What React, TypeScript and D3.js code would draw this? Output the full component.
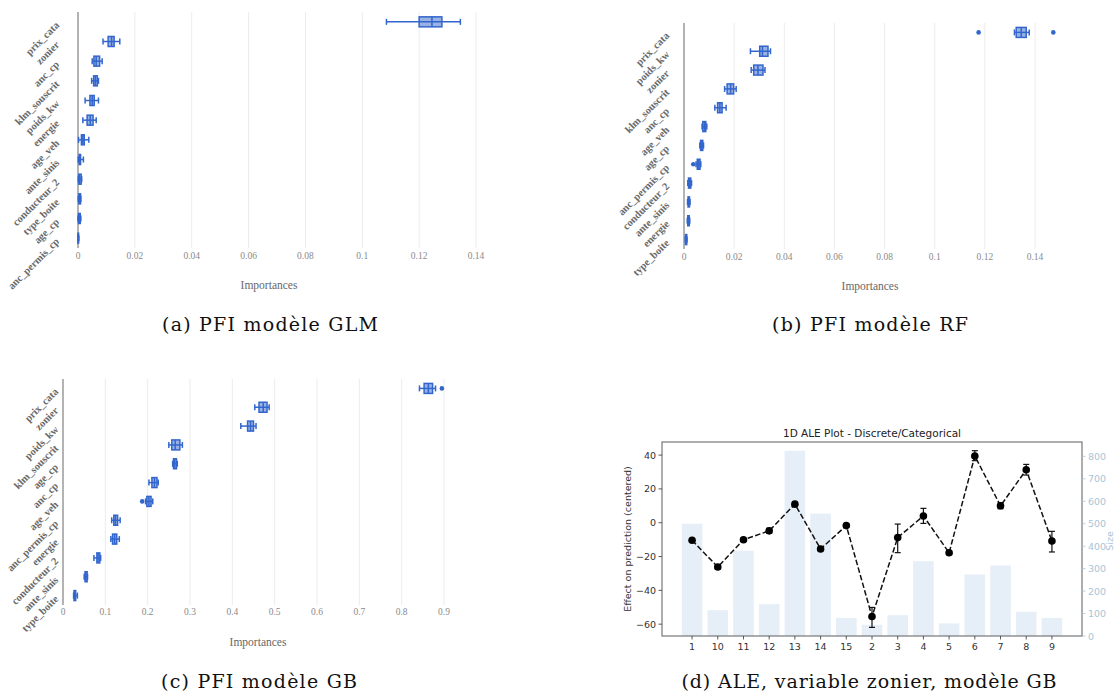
import React from "react";
import * as d3 from "d3";

// ---------- Panel (a) PFI GLM ----------
const glmLabels = ["prix_cata", "zonier", "anc_cp", "klm_souscrit", "poids_kw", "energie", "age_veh", "ante_sinis", "conducteur_2", "type_boite", "age_cp", "anc_permis_cp"];
const glmLow = [0.1085, 0.0088, 0.005, 0.0048, 0.0025, 0.0017, 0.0002, 0.0001, 0.0001, 0.0001, 0.0, 0.0];
const glmQ1 = [0.12, 0.0106, 0.0056, 0.0055, 0.0042, 0.0032, 0.0012, 0.0004, 0.0003, 0.0003, 0.0002, 0.0];
const glmMed = [0.1245, 0.0118, 0.0064, 0.0061, 0.005, 0.0043, 0.0017, 0.0006, 0.0006, 0.0005, 0.0004, 0.0001];
const glmQ3 = [0.128, 0.0127, 0.0076, 0.0068, 0.0057, 0.0053, 0.0022, 0.0009, 0.0011, 0.0009, 0.0008, 0.0002];
const glmHigh = [0.1345, 0.0147, 0.0085, 0.0072, 0.0072, 0.0064, 0.0038, 0.0019, 0.0013, 0.001, 0.001, 0.0003];
const glmOutlierRows: number[] = [];
const glmOutlierValues: number[] = [];
const glmTicks = [0, 0.02, 0.04, 0.06, 0.08, 0.1, 0.12, 0.14];
const glmTickLabels = ["0", "0.02", "0.04", "0.06", "0.08", "0.1", "0.12", "0.14"];

// ---------- Panel (b) PFI RF ----------
const rfLabels = ["prix_cata", "poids_kw", "zonier", "klm_souscrit", "anc_cp", "age_veh", "age_cp", "anc_permis_cp", "conducteur_2", "ante_sinis", "energie", "type_boite"];
const rfLow = [0.1318, 0.0265, 0.0268, 0.0162, 0.0123, 0.0072, 0.0063, 0.0048, 0.0015, 0.0014, 0.0013, 0.0005];
const rfQ1 = [0.1325, 0.0302, 0.0278, 0.0172, 0.0134, 0.0075, 0.0066, 0.0053, 0.0018, 0.0016, 0.0015, 0.0006];
const rfMed = [0.1345, 0.0313, 0.0295, 0.0186, 0.0143, 0.0081, 0.0071, 0.0059, 0.0022, 0.0019, 0.0018, 0.0009];
const rfQ3 = [0.1365, 0.0335, 0.0315, 0.0198, 0.0152, 0.0087, 0.0075, 0.0064, 0.0027, 0.0022, 0.0021, 0.0011];
const rfHigh = [0.1377, 0.0345, 0.0323, 0.0208, 0.0168, 0.0091, 0.0078, 0.0067, 0.003, 0.0024, 0.0023, 0.0012];
const rfOutlierRows = [0, 0, 7];
const rfOutlierValues = [0.1175, 0.1473, 0.0037];
const rfTicks = [0, 0.02, 0.04, 0.06, 0.08, 0.1, 0.12, 0.14];
const rfTickLabels = ["0", "0.02", "0.04", "0.06", "0.08", "0.1", "0.12", "0.14"];

// ---------- Panel (c) PFI GB ----------
const gbLabels = ["prix_cata", "zonier", "poids_kw", "klm_souscrit", "age_cp", "anc_cp", "age_veh", "anc_permis_cp", "energie", "conducteur_2", "ante_sinis", "type_boite"];
const gbLow = [0.842, 0.453, 0.42, 0.25, 0.259, 0.203, 0.195, 0.115, 0.113, 0.073, 0.05, 0.025];
const gbQ1 = [0.853, 0.463, 0.436, 0.257, 0.261, 0.21, 0.198, 0.12, 0.117, 0.08, 0.052, 0.026];
const gbMed = [0.863, 0.473, 0.443, 0.265, 0.264, 0.216, 0.203, 0.124, 0.122, 0.083, 0.054, 0.028];
const gbQ3 = [0.873, 0.482, 0.45, 0.276, 0.268, 0.222, 0.208, 0.129, 0.127, 0.087, 0.057, 0.03];
const gbHigh = [0.88, 0.487, 0.456, 0.282, 0.27, 0.225, 0.212, 0.135, 0.133, 0.089, 0.058, 0.034];
const gbOutlierRows = [0, 6];
const gbOutlierValues = [0.895, 0.187];
const gbTicks = [0, 0.1, 0.2, 0.3, 0.4, 0.5, 0.6, 0.7, 0.8, 0.9];
const gbTickLabels = ["0", "0.1", "0.2", "0.3", "0.4", "0.5", "0.6", "0.7", "0.8", "0.9"];

// ---------- Panel (d) ALE ----------
const aleCategories = ["1", "10", "11", "12", "13", "14", "15", "2", "3", "4", "5", "6", "7", "8", "9"];
const aleEffect = [-10.4, -26.2, -10.1, -4.8, 11.0, -15.5, -1.7, -55.5, -8.8, 4.0, -17.8, 39.5, 10.0, 31.3, -10.8];
const aleErrLow = [-11.4, -27.4, -11.1, -6.3, 10.0, -16.5, -2.7, -61.9, -17.7, -0.4, -18.8, 36.7, 8.3, 28.2, -17.3];
const aleErrHigh = [-9.4, -25.0, -9.1, -3.3, 12.0, -14.5, -0.7, -50.1, -0.8, 8.5, -16.8, 42.6, 11.8, 34.5, -5.1];
const aleSize = [500, 115, 380, 142, 825, 545, 81, 50, 93, 333, 56, 274, 314, 108, 81];
const aleLeftTicks = [-60, -40, -20, 0, 20, 40];
const aleRightTicks = [0, 100, 200, 300, 400, 500, 600, 700, 800];

const BLUE = "#3366cc";
const SERIF = "'Liberation Serif', 'DejaVu Serif', serif";
const CAPTION = "'DejaVu Serif', serif";
const SANS = "'DejaVu Sans', sans-serif";

type PFIProps = {
  labels: string[];
  low: number[];
  q1: number[];
  med: number[];
  q3: number[];
  high: number[];
  outRows: number[];
  outVals: number[];
  ticks: number[];
  tickLabels: string[];
  domainMax: number;
  x0: number;
  x1: number;
  top: number;
  bottom: number;
  labelGap: number;
  tickY: number;
  titleX: number;
  titleY: number;
};

function PFIPanel(p: PFIProps) {
  const x = d3.scaleLinear().domain([0, p.domainMax]).range([p.x0, p.x1]);
  const y = d3.scaleBand<string>().domain(p.labels).range([p.top, p.bottom]);
  const bh = 10;
  const ch = 6;
  return (
    <g>
      {p.ticks.map((t, i) =>
        t === 0 ? null : (
          <line key={"g" + i} x1={x(t)} x2={x(t)} y1={p.top} y2={p.bottom} stroke="#ececec" strokeWidth={1} />
        )
      )}
      <line x1={x(0)} x2={x(0)} y1={p.top} y2={p.bottom} stroke="#8a8a8a" strokeWidth={1.3} />
      {p.ticks.map((t, i) => (
        <text key={"t" + i} x={x(t)} y={p.tickY} textAnchor="middle" fontFamily={SERIF} fontSize={9.5} fill="#8a8a8a">
          {p.tickLabels[i]}
        </text>
      ))}
      <text x={p.titleX} y={p.titleY} textAnchor="middle" fontFamily={SERIF} fontSize={11.5} fill="#666">
        Importances
      </text>
      {p.labels.map((lab, i) => {
        const cy = (y(lab) as number) + y.bandwidth() / 2;
        const lx = p.x0 - p.labelGap;
        const ly = cy + 4;
        return (
          <text
            key={"l" + i}
            x={lx}
            y={ly}
            transform={`rotate(-45 ${lx} ${ly})`}
            textAnchor="end"
            fontFamily={SERIF}
            fontSize={10.5}
            fontWeight="bold"
            fill="#6a6a6a"
          >
            {lab}
          </text>
        );
      })}
      {p.labels.map((lab, i) => {
        const cy = (y(lab) as number) + y.bandwidth() / 2;
        return (
          <g key={"b" + i} stroke={BLUE} strokeWidth={1.5}>
            <line x1={x(p.low[i])} x2={x(p.high[i])} y1={cy} y2={cy} />
            <line x1={x(p.low[i])} x2={x(p.low[i])} y1={cy - ch / 2} y2={cy + ch / 2} />
            <line x1={x(p.high[i])} x2={x(p.high[i])} y1={cy - ch / 2} y2={cy + ch / 2} />
            <rect
              x={x(p.q1[i])}
              y={cy - bh / 2}
              width={Math.max(x(p.q3[i]) - x(p.q1[i]), 0.5)}
              height={bh}
              fill="rgba(51,102,204,0.5)"
            />
            <line x1={x(p.med[i])} x2={x(p.med[i])} y1={cy - bh / 2} y2={cy + bh / 2} />
          </g>
        );
      })}
      {p.outRows.map((r, i) => (
        <circle
          key={"o" + i}
          cx={x(p.outVals[i])}
          cy={(y(p.labels[r]) as number) + y.bandwidth() / 2}
          r={2.3}
          fill={BLUE}
        />
      ))}
    </g>
  );
}

function ALEPanel() {
  const left = 662, right = 1082, top = 442, bottom = 636;
  const x = d3.scalePoint<string>().domain(aleCategories).range([left, right]).padding(1.17);
  const yL = d3.scaleLinear().domain([-67.0, 47.75]).range([bottom, top]);
  const yR = d3.scaleLinear().domain([0, 864]).range([bottom, top]);
  const bw = x.step() * 0.8;
  const pts = aleCategories.map((c, i) => [x(c) as number, yL(aleEffect[i])] as [number, number]);
  const line = d3.line()(pts) || "";
  const fmt = (v: number) => (v < 0 ? "\u2212" + Math.abs(v) : String(v));
  return (
    <g fontFamily={SANS}>
      <text x={872} y={437} textAnchor="middle" fontSize={10.5} fill="#222">
        1D ALE Plot - Discrete/Categorical
      </text>
      {aleCategories.map((c, i) => (
        <rect key={"bar" + i} x={(x(c) as number) - bw / 2} y={yR(aleSize[i])} width={bw} height={bottom - yR(aleSize[i])} fill="#e6eef7" />
      ))}
      <path d={line} fill="none" stroke="#111" strokeWidth={1.5} strokeDasharray="5.5,2.4" />
      {aleCategories.map((c, i) => {
        const cx = x(c) as number;
        return (
          <g key={"e" + i} stroke="#111" strokeWidth={1.2}>
            <line x1={cx} x2={cx} y1={yL(aleErrLow[i])} y2={yL(aleErrHigh[i])} />
            <line x1={cx - 3} x2={cx + 3} y1={yL(aleErrLow[i])} y2={yL(aleErrLow[i])} />
            <line x1={cx - 3} x2={cx + 3} y1={yL(aleErrHigh[i])} y2={yL(aleErrHigh[i])} />
          </g>
        );
      })}
      {pts.map((pt, i) => (
        <circle key={"m" + i} cx={pt[0]} cy={pt[1]} r={3.8} fill="#000" />
      ))}
      <rect x={left} y={top} width={right - left} height={bottom - top} fill="none" stroke="#777" strokeWidth={1.2} />
      {aleLeftTicks.map((t, i) => (
        <g key={"lt" + i}>
          <line x1={left - 3.5} x2={left} y1={yL(t)} y2={yL(t)} stroke="#333" strokeWidth={0.8} />
          <text x={left - 6} y={yL(t) + 3.5} textAnchor="end" fontSize={9.5} fill="#333">
            {fmt(t)}
          </text>
        </g>
      ))}
      {aleRightTicks.map((t, i) => (
        <g key={"rt" + i}>
          <line x1={right} x2={right + 3.5} y1={yR(t)} y2={yR(t)} stroke="#a8c4d8" strokeWidth={0.8} />
          <text x={right + 6} y={yR(t) + 3.5} textAnchor="start" fontSize={9.5} fill="#a8c4d8">
            {t}
          </text>
        </g>
      ))}
      {aleCategories.map((c, i) => (
        <g key={"xt" + i}>
          <line x1={x(c) as number} x2={x(c) as number} y1={bottom} y2={bottom + 3.5} stroke="#333" strokeWidth={0.8} />
          <text x={x(c) as number} y={650} textAnchor="middle" fontSize={9.5} fill="#333">
            {c}
          </text>
        </g>
      ))}
      <text x={631} y={539} transform="rotate(-90 631 539)" textAnchor="middle" fontSize={9.5} fill="#333">
        Effect on prediction (centered)
      </text>
      <text x={1113} y={541} transform="rotate(-90 1113 541)" textAnchor="middle" fontSize={9.5} fill="#a8c4d8">
        Size
      </text>
    </g>
  );
}

export default function App() {
  return (
    <svg width={1114} height={698} style={{ position: "absolute", left: 0, top: 0, background: "#fff" }}>
      <rect x={0} y={0} width={1114} height={698} fill="#fff" />
      <PFIPanel
        labels={glmLabels} low={glmLow} q1={glmQ1} med={glmMed} q3={glmQ3} high={glmHigh}
        outRows={glmOutlierRows} outVals={glmOutlierValues}
        ticks={glmTicks} tickLabels={glmTickLabels} domainMax={0.14}
        x0={78} x1={476} top={12} bottom={248} labelGap={18} tickY={259} titleX={269} titleY={289}
      />
      <PFIPanel
        labels={rfLabels} low={rfLow} q1={rfQ1} med={rfMed} q3={rfQ3} high={rfHigh}
        outRows={rfOutlierRows} outVals={rfOutlierValues}
        ticks={rfTicks} tickLabels={rfTickLabels} domainMax={0.14}
        x0={684} x1={1035} top={23} bottom={249} labelGap={14} tickY={260} titleX={870} titleY={290}
      />
      <PFIPanel
        labels={gbLabels} low={gbLow} q1={gbQ1} med={gbMed} q3={gbQ3} high={gbHigh}
        outRows={gbOutlierRows} outVals={gbOutlierValues}
        ticks={gbTicks} tickLabels={gbTickLabels} domainMax={0.9}
        x0={63} x1={444} top={379} bottom={605} labelGap={4} tickY={615} titleX={258} titleY={646}
      />
      <ALEPanel />
      <text x={270} y={331} textAnchor="middle" fontFamily={CAPTION} fontSize={19} fill="#111" textLength={216}>
        (a) PFI modèle GLM
      </text>
      <text x={870} y={331} textAnchor="middle" fontFamily={CAPTION} fontSize={19} fill="#111" textLength={196}>
        (b) PFI modèle RF
      </text>
      <text x={259} y={688} textAnchor="middle" fontFamily={CAPTION} fontSize={19} fill="#111" textLength={196}>
        (c) PFI modèle GB
      </text>
      <text x={869} y={688} textAnchor="middle" fontFamily={CAPTION} fontSize={19} fill="#111" textLength={375}>
        (d) ALE, variable zonier, modèle GB
      </text>
    </svg>
  );
}
